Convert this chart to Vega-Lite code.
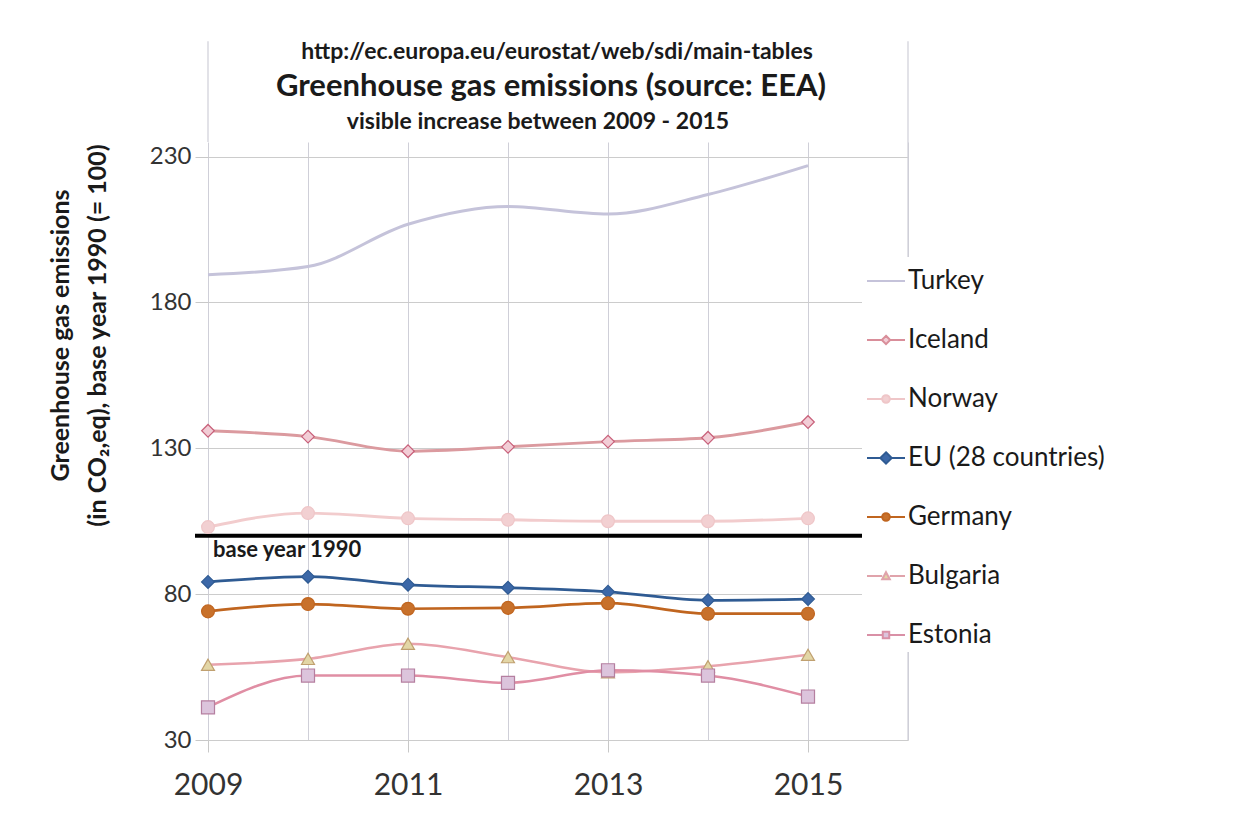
{
  "$schema": "https://vega.github.io/schema/vega-lite/v6.json",
  "width": 700,
  "height": 598,
  "autosize": {"type": "none"},
  "padding": {"left": 208, "top": 142, "right": 342, "bottom": 73},
  "background": "white",
  "config": {
    "font": "Lato",
    "view": {"stroke": null}
  },
  "datasets": {
    "series": [
      {"country": "Turkey", "year": 2009, "value": 189.5},
      {"country": "Turkey", "year": 2010, "value": 192.3},
      {"country": "Turkey", "year": 2011, "value": 206.8},
      {"country": "Turkey", "year": 2012, "value": 212.9},
      {"country": "Turkey", "year": 2013, "value": 210.3},
      {"country": "Turkey", "year": 2014, "value": 217.0},
      {"country": "Turkey", "year": 2015, "value": 226.9},
      {"country": "Iceland", "year": 2009, "value": 136.0},
      {"country": "Iceland", "year": 2010, "value": 134.0},
      {"country": "Iceland", "year": 2011, "value": 129.0},
      {"country": "Iceland", "year": 2012, "value": 130.5},
      {"country": "Iceland", "year": 2013, "value": 132.3},
      {"country": "Iceland", "year": 2014, "value": 133.6},
      {"country": "Iceland", "year": 2015, "value": 139.0},
      {"country": "Norway", "year": 2009, "value": 103.0},
      {"country": "Norway", "year": 2010, "value": 107.8},
      {"country": "Norway", "year": 2011, "value": 106.0},
      {"country": "Norway", "year": 2012, "value": 105.5},
      {"country": "Norway", "year": 2013, "value": 105.0},
      {"country": "Norway", "year": 2014, "value": 105.0},
      {"country": "Norway", "year": 2015, "value": 106.0},
      {"country": "EU (28 countries)", "year": 2009, "value": 84.2},
      {"country": "EU (28 countries)", "year": 2010, "value": 86.0},
      {"country": "EU (28 countries)", "year": 2011, "value": 83.2},
      {"country": "EU (28 countries)", "year": 2012, "value": 82.2},
      {"country": "EU (28 countries)", "year": 2013, "value": 80.8},
      {"country": "EU (28 countries)", "year": 2014, "value": 77.9},
      {"country": "EU (28 countries)", "year": 2015, "value": 78.3},
      {"country": "Germany", "year": 2009, "value": 74.1},
      {"country": "Germany", "year": 2010, "value": 76.6},
      {"country": "Germany", "year": 2011, "value": 75.0},
      {"country": "Germany", "year": 2012, "value": 75.3},
      {"country": "Germany", "year": 2013, "value": 76.9},
      {"country": "Germany", "year": 2014, "value": 73.3},
      {"country": "Germany", "year": 2015, "value": 73.3},
      {"country": "Bulgaria", "year": 2009, "value": 55.8},
      {"country": "Bulgaria", "year": 2010, "value": 57.8},
      {"country": "Bulgaria", "year": 2011, "value": 63.0},
      {"country": "Bulgaria", "year": 2012, "value": 58.4},
      {"country": "Bulgaria", "year": 2013, "value": 53.2},
      {"country": "Bulgaria", "year": 2014, "value": 55.3},
      {"country": "Bulgaria", "year": 2015, "value": 59.2},
      {"country": "Estonia", "year": 2009, "value": 41.2},
      {"country": "Estonia", "year": 2010, "value": 52.1},
      {"country": "Estonia", "year": 2011, "value": 52.1},
      {"country": "Estonia", "year": 2012, "value": 49.6},
      {"country": "Estonia", "year": 2013, "value": 53.9},
      {"country": "Estonia", "year": 2014, "value": 52.1},
      {"country": "Estonia", "year": 2015, "value": 44.9}
    ],
    "labels": [
      {"text": "http://ec.europa.eu/eurostat/web/sdi/main-tables", "x": 2012.49, "y": 266.0, "size": 23},
      {"text": "Greenhouse gas emissions (source: EEA)", "x": 2012.43, "y": 253.8, "size": 31},
      {"text": "visible increase between 2009 - 2015", "x": 2012.3, "y": 242.0, "size": 23}
    ],
    "base": [
      {"value": 100, "label": "base year 1990", "x0": 2008.87, "x1": 2015.57, "lx": 2009.05, "ly": 95.3}
    ],
    "frame": [
      {"x": 2009, "y0": 235, "y1": 269.5},
      {"x": 2016, "y0": 30, "y1": 269.5}
    ]
  },
  "data": {"name": "series"},
  "resolve": {"scale": {"shape": "independent", "fill": "independent", "stroke": "independent", "strokeWidth": "independent"}},
  "layer": [
    {
      "data": {"name": "frame"},
      "mark": {"type": "rule", "color": "#cfcfd8", "strokeWidth": 1.2},
      "encoding": {
        "x": {"field": "x", "type": "quantitative"},
        "y": {"field": "y0", "type": "quantitative"},
        "y2": {"field": "y1"}
      }
    },
    {
      "data": {"name": "base"},
      "mark": {"type": "rule", "color": "#000000", "strokeWidth": 4},
      "encoding": {
        "x": {"field": "x0", "type": "quantitative"},
        "x2": {"field": "x1"},
        "y": {"field": "value", "type": "quantitative"}
      }
    },
    {
      "data": {"name": "base"},
      "mark": {"type": "text", "align": "left", "baseline": "middle", "fontSize": 22, "fontWeight": "bold", "font": "Lato", "color": "#1a1a1a"},
      "encoding": {
        "text": {"field": "label"},
        "x": {"field": "lx", "type": "quantitative"},
        "y": {"field": "ly", "type": "quantitative"}
      }
    },
    {
      "data": {"name": "labels"},
      "mark": {"type": "text", "align": "center", "baseline": "middle", "fontWeight": "bold", "font": "Lato", "color": "#1a1a1a"},
      "encoding": {
        "text": {"field": "text"},
        "x": {"field": "x", "type": "quantitative"},
        "y": {"field": "y", "type": "quantitative"},
        "size": {"field": "size", "type": "quantitative", "scale": null, "legend": null}
      }
    },
    {
      "mark": {"type": "line", "interpolate": "monotone"},
      "encoding": {
        "x": {
          "field": "year", "type": "quantitative",
          "scale": {"domain": [2009, 2016], "zero": false, "nice": false},
          "axis": {
            "values": [2009, 2010, 2011, 2012, 2013, 2014, 2015, 2016],
            "format": "d",
            "labelExpr": "datum.value % 2 === 1 && datum.value < 2016 ? datum.label : ''",
            "labelFlush": false,
            "labelOverlap": false,
            "title": null,
            "grid": true,
            "gridColor": "#cfcfd8",
            "gridWidth": 1,
            "domain": false,
            "tickSize": 12,
            "tickColor": {"condition": {"test": "datum.value % 2 === 0", "value": "transparent"}, "value": "#c8c8c8"},
            "labelFontSize": 30,
            "labelFont": "Lato",
            "labelColor": "#333333",
            "labelPadding": 18
          }
        },
        "y": {
          "field": "value", "type": "quantitative",
          "scale": {"domain": [30, 235], "zero": false, "nice": false},
          "axis": {
            "values": [30, 80, 130, 180, 230],
            "title": ["Greenhouse gas emissions", "(in CO\u2082,eq), base year 1990 (= 100)"],
            "titleFont": "Lato",
            "titleFontSize": 25,
            "titleFontWeight": "bold",
            "titleColor": "#1a1a1a",
            "titleAngle": -90,
            "titleAlign": "center",
            "titleBaseline": "top",
            "titleLineHeight": 37,
            "titleX": -160,
            "titleY": 193,
            "grid": true,
            "gridColor": "#cccccc",
            "domain": false,
            "tickSize": 13,
            "tickColor": "#c8c8c8",
            "labelFontSize": 24,
            "labelFont": "Lato",
            "labelColor": "#333333",
            "labelPadding": 4
          }
        },
        "color": {
          "field": "country", "type": "nominal", "legend": null,
          "scale": {
            "domain": ["Turkey", "Iceland", "Norway", "EU (28 countries)", "Germany", "Bulgaria", "Estonia"],
            "range": ["#c5c3da", "#db9a9f", "#f2cccd", "#2f5b93", "#c0651f", "#e8a3ad", "#e08ea4"]
          }
        },
        "strokeWidth": {
          "field": "country", "type": "nominal", "legend": null,
          "scale": {
            "domain": ["Turkey", "Iceland", "Norway", "EU (28 countries)", "Germany", "Bulgaria", "Estonia"],
            "range": [3, 2.5, 3.5, 7, 3, 2, 2]
          }
        }
      }
    },
    {
      "transform": [{"filter": "datum.country !== 'Turkey'"}],
      "mark": {"type": "point", "filled": true, "opacity": 1, "strokeWidth": 1.2},
      "encoding": {
        "x": {"field": "year", "type": "quantitative"},
        "y": {"field": "value", "type": "quantitative"},
        "shape": {
          "field": "country", "type": "nominal", "legend": null,
          "scale": {
            "domain": ["Iceland", "Norway", "EU (28 countries)", "Germany", "Bulgaria", "Estonia"],
            "range": ["diamond", "circle", "diamond", "circle", "triangle-up", "square"]
          }
        },
        "size": {
          "field": "country", "type": "nominal", "legend": null,
          "scale": {
            "domain": ["Iceland", "Norway", "EU (28 countries)", "Germany", "Bulgaria", "Estonia"],
            "range": [160, 170, 400, 170, 160, 140]
          }
        },
        "fill": {
          "field": "country", "type": "nominal", "legend": null,
          "scale": {
            "domain": ["Iceland", "Norway", "EU (28 countries)", "Germany", "Bulgaria", "Estonia"],
            "range": ["#f2cdd6", "#f2d0d2", "#3c68a8", "#c8712b", "#e3d6a6", "#dcc4dc"]
          }
        },
        "stroke": {
          "field": "country", "type": "nominal", "legend": null,
          "scale": {
            "domain": ["Iceland", "Norway", "EU (28 countries)", "Germany", "Bulgaria", "Estonia"],
            "range": ["#c8607a", "#efc6c8", "#2f5b93", "#c0651f", "#c0a070", "#b57fa0"]
          }
        }
      }
    },
    {
      "mark": {"type": "point", "opacity": 0, "filled": true},
      "encoding": {
        "shape": {
          "field": "country", "type": "nominal",
          "scale": {
            "domain": ["Turkey", "Iceland", "Norway", "EU (28 countries)", "Germany", "Bulgaria", "Estonia"],
            "range": [
              "M-1,0H1",
              "M-1,0H-0.22M0.22,0H1M0,-0.22L0.22,0L0,0.22L-0.22,0Z",
              "M-1,0H-0.2M0.2,0H1M-0.2,0A0.2,0.2,0,1,0,0.2,0A0.2,0.2,0,1,0,-0.2,0Z",
              "M-1,0H-0.3M0.3,0H1M0,-0.3L0.3,0L0,0.3L-0.3,0Z",
              "M-1,0H-0.2M0.2,0H1M-0.2,0A0.2,0.2,0,1,0,0.2,0A0.2,0.2,0,1,0,-0.2,0Z",
              "M-1,0H-0.2M0.2,0H1M0,-0.2L0.2,0.17L-0.2,0.17Z",
              "M-1,0H-0.17M0.17,0H1M-0.17,-0.17H0.17V0.17H-0.17Z"
            ]
          },
          "legend": {
            "title": null, "orient": "none", "legendX": 654, "legendY": 115,
            "fillColor": "white", "padding": 4, "symbolSize": 1444, "symbolOpacity": 1,
            "labelFont": "Lato", "labelFontSize": 26, "labelColor": "#1a1a1a",
            "labelOffset": 2, "labelLimit": 400, "rowPadding": 26
          }
        },
        "stroke": {
          "field": "country", "type": "nominal",
          "scale": {
            "domain": ["Turkey", "Iceland", "Norway", "EU (28 countries)", "Germany", "Bulgaria", "Estonia"],
            "range": ["#c5c3da", "#d98e9a", "#efc6c8", "#2f5b93", "#c0651f", "#e0a3ab", "#d990a6"]
          },
          "legend": {
            "title": null, "orient": "none", "legendX": 654, "legendY": 115,
            "fillColor": "white", "padding": 4, "symbolSize": 1444, "symbolOpacity": 1,
            "labelFont": "Lato", "labelFontSize": 26, "labelColor": "#1a1a1a",
            "labelOffset": 2, "labelLimit": 400, "rowPadding": 26
          }
        },
        "fill": {
          "field": "country", "type": "nominal",
          "scale": {
            "domain": ["Turkey", "Iceland", "Norway", "EU (28 countries)", "Germany", "Bulgaria", "Estonia"],
            "range": ["transparent", "#f2cdd6", "#f2d0d2", "#3c68a8", "#c8712b", "#e3d6a6", "#dcc4dc"]
          },
          "legend": {
            "title": null, "orient": "none", "legendX": 654, "legendY": 115,
            "fillColor": "white", "padding": 4, "symbolSize": 1444, "symbolOpacity": 1,
            "labelFont": "Lato", "labelFontSize": 26, "labelColor": "#1a1a1a",
            "labelOffset": 2, "labelLimit": 400, "rowPadding": 26
          }
        },
        "strokeWidth": {
          "field": "country", "type": "nominal",
          "scale": {
            "domain": ["Turkey", "Iceland", "Norway", "EU (28 countries)", "Germany", "Bulgaria", "Estonia"],
            "range": [2, 2, 2, 4.5, 2, 2, 2]
          },
          "legend": {
            "title": null, "orient": "none", "legendX": 654, "legendY": 115,
            "fillColor": "white", "padding": 4, "symbolSize": 1444, "symbolOpacity": 1,
            "labelFont": "Lato", "labelFontSize": 26, "labelColor": "#1a1a1a",
            "labelOffset": 2, "labelLimit": 400, "rowPadding": 26
          }
        }
      }
    }
  ]
}
